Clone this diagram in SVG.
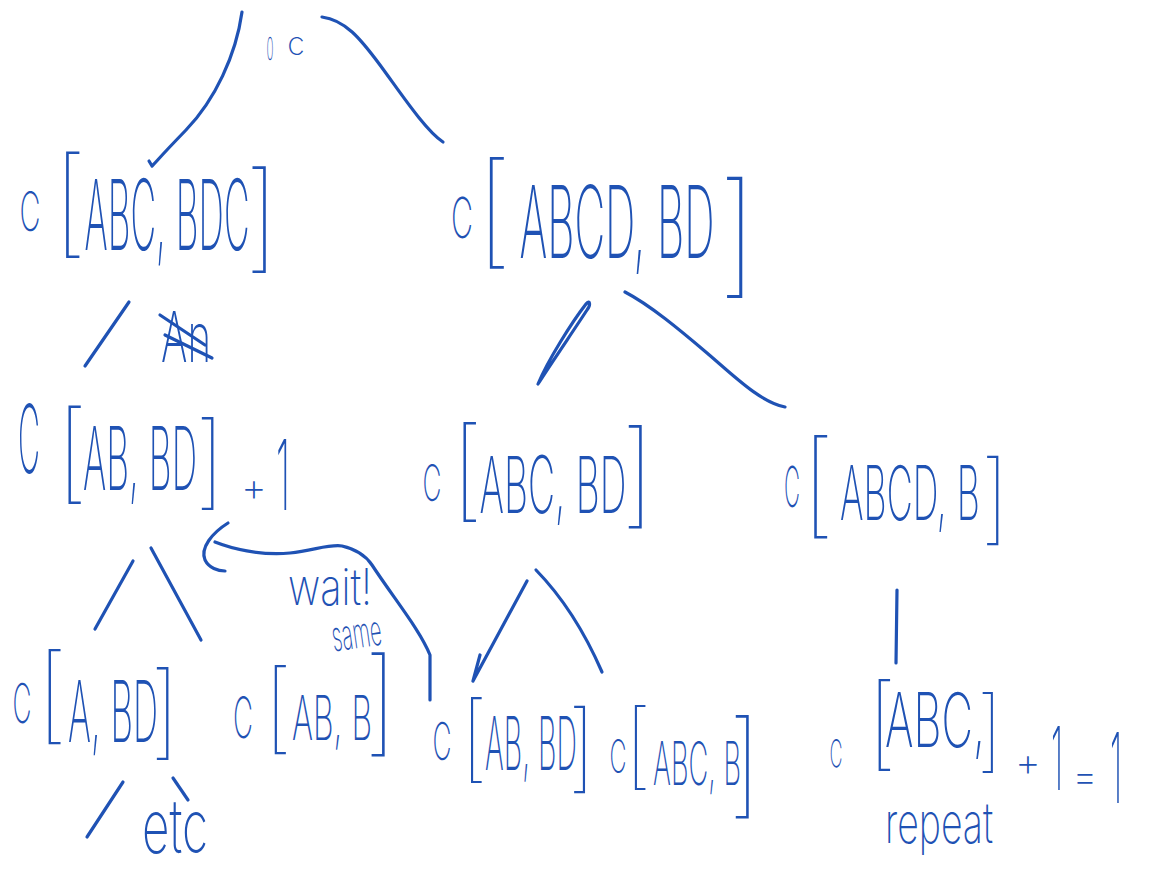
<svg xmlns="http://www.w3.org/2000/svg" width="1149" height="875" viewBox="0 0 1149 875">
<style>
.h{font-family:Inter,Roboto,"Liberation Sans",sans-serif;font-weight:200;fill:#1f52b4;text-anchor:middle}
.b{font-weight:100}
.e{fill:none;stroke:#1f52b4;stroke-width:3.2;stroke-linecap:round;stroke-linejoin:round}
</style>
<rect width="1149" height="875" fill="#fff"/>
<g id="connectors">
<path class="e" d="M242,12 C236,55 215,100 186,130 S158,160 152,166 L149,161"/>
<path class="e" d="M322,17 C345,20 360,38 380,65 S425,130 443,142"/>
<path class="e" d="M85,366 L129,302"/>
<path class="e" d="M538,384 C548,360 572,322 586,304 C590,299 591,305 587,310 C574,330 552,362 538,384"/>
<path class="e" d="M625,292 C650,305 680,330 707,353 S760,402 785,407"/>
<path class="e" d="M95,629 L133,561"/>
<path class="e" d="M151,548 L201,640"/>
<path class="e" d="M473,681 L527,581 M473,681 L480,655"/>
<path class="e" d="M536,570 Q575,610 602,672"/>
<path class="e" d="M897,590 L896,663"/>
<path class="e" d="M87,837 L123,782"/>
<path class="e" d="M173,778 L188,800"/>
<path class="e" d="M228,523 C212,533 200,548 205,560 C209,568 218,571 225,571"/>
<path class="e" d="M215,542 C230,548 260,556 290,553 C315,550 330,544 342,546 C355,549 366,556 372,565 C395,600 420,630 430,655 L430,700"/>
</g>
<g id="root">
<text class="h"><tspan x="270" y="60" font-size="32" textLength="7" lengthAdjust="spacingAndGlyphs">0</tspan><tspan x="296" y="55" font-size="32">c</tspan></text>
</g>
<g id="n1">
<text class="h"><tspan x="30" y="231" font-size="54" textLength="21" lengthAdjust="spacingAndGlyphs">C</tspan><tspan class="b" x="70" y="242" font-size="117">[</tspan><tspan x="167" y="250" font-size="98" textLength="165" lengthAdjust="spacingAndGlyphs">ABC, BDC</tspan><tspan class="b" x="262" y="257" font-size="117">]</tspan></text>
</g>
<g id="n2">
<text class="h"><tspan x="462" y="238" font-size="56" textLength="22" lengthAdjust="spacingAndGlyphs">C</tspan><tspan class="b" x="494" y="252" font-size="123">[</tspan><tspan x="617" y="258" font-size="100" textLength="195" lengthAdjust="spacingAndGlyphs">ABCD, BD</tspan><tspan class="b" x="738" y="280" font-size="134">]</tspan></text>
</g>
<g id="strike">
<text class="h"><tspan x="186" y="362" font-size="70" textLength="50" lengthAdjust="spacingAndGlyphs">An</tspan></text>
<path class="e" d="M160,315 L205,345 M165,335 L212,358"/>
</g>
<g id="n3">
<text class="h"><tspan x="29" y="473" font-size="95" textLength="22" lengthAdjust="spacingAndGlyphs">C</tspan><tspan class="b" x="72" y="489" font-size="108">[</tspan><tspan x="140" y="490" font-size="88" textLength="114" lengthAdjust="spacingAndGlyphs">AB, BD</tspan><tspan class="b" x="210" y="496" font-size="102">]</tspan><tspan x="254" y="501" font-size="40">+</tspan><tspan x="283" y="510" font-size="98" textLength="14" lengthAdjust="spacingAndGlyphs">1</tspan></text>
</g>
<g id="n4">
<text class="h"><tspan x="432" y="501" font-size="50" textLength="19" lengthAdjust="spacingAndGlyphs">C</tspan><tspan class="b" x="467" y="507" font-size="110">[</tspan><tspan x="553" y="513" font-size="79" textLength="147" lengthAdjust="spacingAndGlyphs">ABC, BD</tspan><tspan class="b" x="638" y="513" font-size="114">]</tspan></text>
</g>
<g id="n5">
<text class="h"><tspan x="792" y="507" font-size="56" textLength="16" lengthAdjust="spacingAndGlyphs">C</tspan><tspan class="b" x="818" y="523" font-size="114">[</tspan><tspan x="910" y="520" font-size="75" textLength="140" lengthAdjust="spacingAndGlyphs">ABCD, B</tspan><tspan class="b" x="995" y="532" font-size="99">]</tspan></text>
</g>
<g id="n6">
<text class="h"><tspan x="22" y="723" font-size="55" textLength="19" lengthAdjust="spacingAndGlyphs">C</tspan><tspan class="b" x="52" y="730" font-size="105">[</tspan><tspan x="113" y="742" font-size="85" textLength="90" lengthAdjust="spacingAndGlyphs">A, BD</tspan><tspan class="b" x="165" y="746" font-size="102">]</tspan></text>
<text class="h"><tspan x="175" y="853" font-size="75" textLength="66" lengthAdjust="spacingAndGlyphs">etc</tspan></text>
</g>
<g id="n7">
<text class="h"><tspan x="243" y="738" font-size="57" textLength="20" lengthAdjust="spacingAndGlyphs">C</tspan><tspan class="b" x="278" y="741" font-size="98">[</tspan><tspan x="332" y="740" font-size="62" textLength="80" lengthAdjust="spacingAndGlyphs">AB, B</tspan><tspan class="b" x="381" y="741" font-size="115">]</tspan></text>
</g>
<g id="note">
<text class="h"><tspan x="330" y="605" font-size="50" textLength="84" lengthAdjust="spacingAndGlyphs">wait!</tspan></text>
<text class="h" transform="rotate(-8 358 645)"><tspan x="358" y="648" font-size="42" textLength="50" lengthAdjust="spacingAndGlyphs">same</tspan></text>
</g>
<g id="n8">
<text class="h"><tspan x="442" y="760" font-size="52" textLength="19" lengthAdjust="spacingAndGlyphs">C</tspan><tspan class="b" x="474" y="770" font-size="94">[</tspan><tspan x="531" y="770" font-size="74" textLength="92" lengthAdjust="spacingAndGlyphs">AB, BD</tspan><tspan class="b" x="582" y="780" font-size="96">]</tspan></text>
</g>
<g id="n9">
<text class="h"><tspan x="618" y="773" font-size="46" textLength="17" lengthAdjust="spacingAndGlyphs">C</tspan><tspan class="b" x="638" y="777" font-size="93">[</tspan><tspan x="697" y="785" font-size="60" textLength="88" lengthAdjust="spacingAndGlyphs">ABC, B</tspan><tspan class="b" x="745" y="803" font-size="114">]</tspan></text>
</g>
<g id="n10">
<text class="h"><tspan x="836" y="767" font-size="38" textLength="13" lengthAdjust="spacingAndGlyphs">C</tspan><tspan class="b" x="882" y="757" font-size="101">[</tspan><tspan x="935" y="747" font-size="75" textLength="100" lengthAdjust="spacingAndGlyphs">ABC,</tspan><tspan class="b" x="990" y="761" font-size="90">]</tspan><tspan x="1028" y="776" font-size="40">+</tspan><tspan x="1057" y="790" font-size="88" textLength="12" lengthAdjust="spacingAndGlyphs">1</tspan><tspan x="1085" y="790" font-size="40">=</tspan><tspan x="1116" y="803" font-size="98" textLength="12" lengthAdjust="spacingAndGlyphs">1</tspan></text>
<text class="h"><tspan x="939" y="843" font-size="57" textLength="108" lengthAdjust="spacingAndGlyphs">repeat</tspan></text>
</g>
</svg>
